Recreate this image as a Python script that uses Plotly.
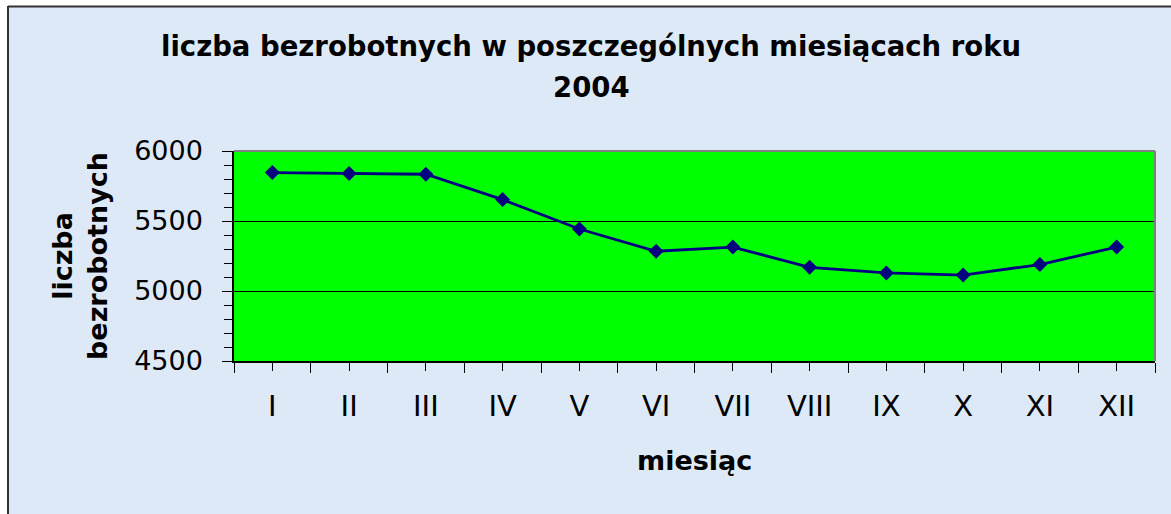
import plotly.graph_objects as go

# ---- data ----
months = ["I", "II", "III", "IV", "V", "VI", "VII", "VIII", "IX", "X", "XI", "XII"]
unemployed = [5846, 5839, 5834, 5653, 5443, 5284, 5314, 5169, 5129, 5114, 5189, 5314]
y_ticks = [4500, 5000, 5500, 6000]

title_line1 = "liczba bezrobotnych w poszczególnych miesiącach roku"
title_line2 = "2004"
x_title = "miesiąc"
y_title = "liczba<br>bezrobotnych"

# ---- layout geometry (pixels) ----
W, H = 1171, 514
L, R, T, B = 234, 16, 151, 153
PW = W - L - R
PH = H - T - B


def px_x(p):
    return (p - L) / PW


def px_y(p):
    return (H - B - p) / PH


FONT = "DejaVu Sans"
BG = "#dde9f6"

x_idx = list(range(len(months)))

fig = go.Figure()
fig.add_trace(go.Scatter(
    x=x_idx, y=unemployed, mode="lines+markers",
    line=dict(color="#000080", width=2.8),
    marker=dict(symbol="diamond", size=11.5, color="#000080"),
    showlegend=False, hoverinfo="skip",
))

fig.update_layout(
    width=W, height=H,
    margin=dict(l=L, r=R, t=T, b=B, pad=0),
    paper_bgcolor=BG,
    plot_bgcolor="#00ff00",
    font=dict(family=FONT, color="black"),
    xaxis=dict(
        range=[-0.5, len(months) - 0.5],
        tickmode="array", tickvals=x_idx, ticktext=months,
        tickfont=dict(family=FONT, size=29, color="black"),
        ticks="outside", ticklen=8, tickwidth=1, tickcolor="black",
        ticklabelstandoff=10,
        minor=dict(tick0=0.5, dtick=1, ticks="outside", ticklen=10,
                   tickwidth=1, tickcolor="black", showgrid=False),
        showgrid=False, zeroline=False,
        showline=True, linecolor="black", linewidth=1.5,
        fixedrange=True,
    ),
    yaxis=dict(
        range=[4500, 6000],
        tickmode="array", tickvals=y_ticks,
        tickfont=dict(family=FONT, size=27, color="black"),
        ticks="outside", ticklen=10, tickwidth=1, tickcolor="black",
        ticklabelstandoff=14,
        minor=dict(dtick=100, ticks="outside", ticklen=8, tickwidth=1,
                   tickcolor="black", showgrid=False),
        showgrid=True, gridcolor="black", gridwidth=1,
        zeroline=False,
        showline=True, linecolor="black", linewidth=1.5,
        fixedrange=True,
    ),
)

# chart frame: white strips outside the border + dark border lines
shapes = [
    dict(type="rect", xref="paper", yref="paper",
         x0=px_x(-5), x1=px_x(W + 5), y0=px_y(6), y1=px_y(-5),
         fillcolor="white", line=dict(width=0), layer="below"),
    dict(type="rect", xref="paper", yref="paper",
         x0=px_x(-5), x1=px_x(8), y0=px_y(H + 5), y1=px_y(-5),
         fillcolor="white", line=dict(width=0), layer="below"),
    dict(type="line", xref="paper", yref="paper",
         x0=px_x(8), x1=px_x(W + 5), y0=px_y(6.5), y1=px_y(6.5),
         line=dict(color="#333333", width=2)),
    dict(type="line", xref="paper", yref="paper",
         x0=px_x(8), x1=px_x(8), y0=px_y(6), y1=px_y(H + 5),
         line=dict(color="#333333", width=2)),
    # grey plot-area border (top and right)
    dict(type="line", xref="paper", yref="paper", x0=0, x1=1, y0=1, y1=1,
         line=dict(color="#808080", width=2)),
    dict(type="line", xref="paper", yref="paper", x0=1, x1=1, y0=0, y1=1,
         line=dict(color="#808080", width=2)),
]
fig.update_layout(shapes=shapes)

annotations = [
    dict(text="<b>%s</b>" % title_line1, x=px_x(591), y=px_y(46),
         font=dict(family=FONT, size=27.5, color="black")),
    dict(text="<b>%s</b>" % title_line2, x=px_x(591), y=px_y(87),
         font=dict(family=FONT, size=27.5, color="black")),
    dict(text="<b>%s</b>" % x_title, x=0.5, y=px_y(460),
         font=dict(family=FONT, size=27, color="black")),
    dict(text="<b>%s</b>" % y_title, x=px_x(80), y=0.5, textangle=-90,
         font=dict(family=FONT, size=27, color="black")),
]
for a in annotations:
    a.update(xref="paper", yref="paper", xanchor="center", yanchor="middle",
             showarrow=False, align="center")
fig.update_layout(annotations=annotations)

fig.write_html(
    "out.html",
    config={"displayModeBar": False},
    post_script="document.body.style.margin='0';document.body.style.overflow='hidden';",
)
